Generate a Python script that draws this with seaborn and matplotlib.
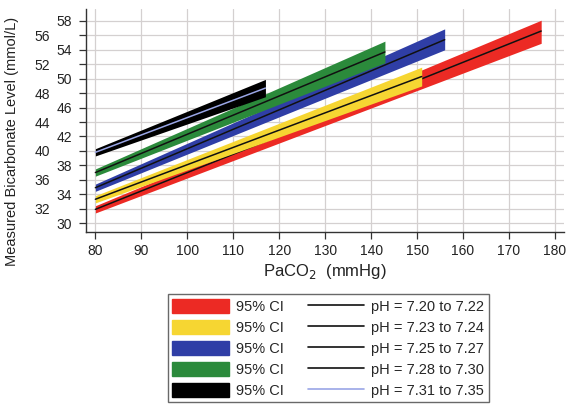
import matplotlib

matplotlib.use("Agg")
import matplotlib.pyplot as plt
import matplotlib.patches as mpatches
from matplotlib.lines import Line2D
import pandas as pd
import seaborn as sns

# pH groups, endpoints of each fitted line and its 95% CI band
groups = ["pH = 7.20 to 7.22", "pH = 7.23 to 7.24", "pH = 7.25 to 7.27",
          "pH = 7.28 to 7.30", "pH = 7.31 to 7.35"]
x_lo = [80, 80, 80, 80, 80]
x_hi = [177, 151, 156, 143, 117]
mid_lo = [31.9, 33.3, 34.9, 37.0, 39.8]
mid_hi = [56.6, 50.3, 55.4, 53.7, 48.7]
ci_lo_lo = [31.4, 32.8, 34.4, 36.5, 39.3]
ci_lo_hi = [54.9, 49.0, 54.0, 52.2, 47.5]
ci_hi_lo = [32.4, 33.8, 35.4, 37.5, 40.3]
ci_hi_hi = [58.1, 51.6, 56.9, 55.2, 49.9]

x_ticks = [80, 90, 100, 110, 120, 130, 140, 150, 160, 170, 180]
y_ticks_near = [30, 34, 38, 42, 46, 50, 54, 58]
y_ticks_far = [32, 36, 40, 44, 48, 52, 56]

band_colors = ["#ec2a24", "#f6d632", "#2f3ea6", "#2b8a3b", "#000000"]
line_colors = ["#111111", "#111111", "#111111", "#111111", "#9aa6e6"]

rows = []
for i, g in enumerate(groups):
    rows.append({"group": g, "x": x_lo[i], "mid": mid_lo[i], "lo": ci_lo_lo[i], "hi": ci_hi_lo[i]})
    rows.append({"group": g, "x": x_hi[i], "mid": mid_hi[i], "lo": ci_lo_hi[i], "hi": ci_hi_hi[i]})
df = pd.DataFrame(rows)

sns.set_style("whitegrid")
plt.rcParams["font.family"] = ["Liberation Sans", "DejaVu Sans"]

fig = plt.figure(figsize=(5.67, 4.08), dpi=100)
ax = fig.add_axes([0.152, 0.432, 0.843, 0.545])

for i, g in enumerate(groups):
    sub = df[df["group"] == g]
    ax.fill_between(sub["x"], sub["lo"], sub["hi"], color=band_colors[i], lw=0, zorder=2 + i)
    sns.lineplot(data=sub, x="x", y="mid", color=line_colors[i], lw=1.1, ax=ax, zorder=2.5 + i)

ax.set_xlim(78, 182)
ax.set_ylim(28.8, 59.6)
ax.set_xticks(x_ticks)
# staggered y labels: every other label sits further from the axis
ax.set_yticks(y_ticks_near)
ax.set_yticks(y_ticks_far, labels=[str(v) for v in y_ticks_far], minor=True)
ax.tick_params(axis="both", which="both", labelsize=10, colors="#333333", labelcolor="#222222",
               length=5, width=0.9, direction="out", left=True, bottom=True)
ax.tick_params(axis="y", which="major", pad=5)
ax.tick_params(axis="y", which="minor", pad=21)
ax.tick_params(axis="x", pad=4)
ax.grid(True, which="both", color="#d4d0d0", lw=0.9)
for s in ["top", "right"]:
    ax.spines[s].set_visible(False)
for s in ["left", "bottom"]:
    ax.spines[s].set_color("#333333")
    ax.spines[s].set_linewidth(1.0)

ax.set_xlabel("PaCO$_2$  (mmHg)", fontsize=12, color="#222222", labelpad=3)
ax.set_ylabel("Measured Bicarbonate Level (mmol/L)", fontsize=10.5, color="#222222")
ax.yaxis.set_label_coords(-0.14, 0.405)

patches = [mpatches.Patch(color=c, label="95% CI") for c in band_colors]
lines = [Line2D([], [], color=c, lw=1.2, label=g) for c, g in zip(line_colors, groups)]
leg = fig.legend(handles=patches + lines, ncol=2, loc="center",
                 bbox_to_anchor=(0.579, 0.146), fontsize=10.5, frameon=True,
                 fancybox=False, edgecolor="#444444", handlelength=3.85,
                 handleheight=1.1, columnspacing=1.65, labelspacing=0.42,
                 borderpad=0.3, handletextpad=0.5)
leg.get_frame().set_linewidth(1.0)

fig.savefig("out.png", dpi=100)
